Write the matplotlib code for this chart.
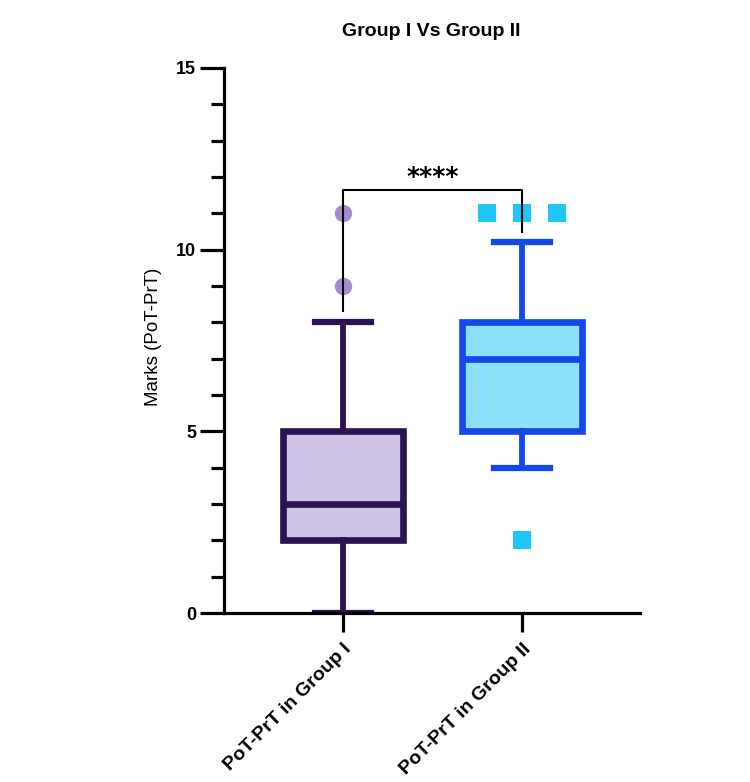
import matplotlib.pyplot as plt

plt.rcParams['font.family'] = ['Liberation Sans', 'DejaVu Sans']

# data
groups = ["PoT-PrT in Group I", "PoT-PrT in Group II"]
whislo = [0, 4]
q1 = [2, 5]
med = [3, 7]
q3 = [5, 8]
whishi = [8, 10.2]
fliers = [[9, 11], [11, 11, 11, 2]]

faces = ["#cec3e6", "#8ee1fb"]
edges = ["#2b1353", "#1448e8"]
flier_colors = ["#a48cd0", "#1ec6fa"]
flier_markers = ["o", "s"]

fig = plt.figure(figsize=(7.5, 7.82), dpi=100)
ax = fig.add_axes([224 / 750, 1 - 613 / 782, 416 / 750, 545 / 782])

positions = [1, 2]
for i in range(len(groups)):
    stats = [dict(whislo=whislo[i], q1=q1[i], med=med[i], q3=q3[i],
                  whishi=whishi[i], fliers=[], label=groups[i])]
    ax.bxp(stats, positions=[positions[i]], widths=0.67, capwidths=0.31,
           patch_artist=True, showfliers=False,
           boxprops=dict(facecolor=faces[i], edgecolor=edges[i], linewidth=4.8),
           medianprops=dict(color=edges[i], linewidth=4.8),
           whiskerprops=dict(color=edges[i], linewidth=4.2),
           capprops=dict(color=edges[i], linewidth=4.5))
    # spread repeated outliers sideways
    seen = {}
    for v in fliers[i]:
        seen[v] = seen.get(v, 0) + 1
    for v, n in seen.items():
        offs = [(k - (n - 1) / 2) * 0.195 for k in range(n)]
        ax.plot([positions[i] + o for o in offs], [v] * n, linestyle="none",
                marker=flier_markers[i], color=flier_colors[i],
                markersize=12.5, markeredgewidth=0, clip_on=False, zorder=3)

ax.set_xlim(0.335, 2.66)
ax.set_ylim(0, 15)
ax.set_xticks(positions)
ax.set_xticklabels(groups, rotation=45, ha="right", rotation_mode="anchor",
                   fontsize=14, fontweight="bold")
ax.set_yticks([0, 5, 10, 15])
ax.set_yticks(range(0, 16), minor=True)
for t in ax.get_yticklabels():
    t.set_fontweight("bold")
    t.set_fontsize(13)

for s in ["top", "right"]:
    ax.spines[s].set_visible(False)
for s in ["left", "bottom"]:
    ax.spines[s].set_linewidth(2.3)
ax.tick_params(axis="y", which="major", length=17, width=2.3, pad=3)
ax.tick_params(axis="y", which="minor", length=9.5, width=2.3)
ax.tick_params(axis="x", which="major", length=14, width=2.3, pad=6)

# significance bracket
ax.plot([1, 1, 2, 2], [8.3, 11.65, 11.65, 10.5], color="black", lw=1.5,
        clip_on=False, zorder=4)
ax.text(1.5, 11.8, "****", ha="center", va="baseline", fontsize=18,
        fontweight="bold", family="DejaVu Sans")

fig.text(431 / 750, 1 - 32 / 782, "Group I Vs Group II", ha="center",
         va="center", fontsize=14, fontweight="bold")
fig.text(153 / 750, 1 - 337 / 782, "Marks (PoT-PrT)", rotation=90,
         ha="center", va="center", fontsize=13.5)

fig.savefig("out.png", dpi=100)
